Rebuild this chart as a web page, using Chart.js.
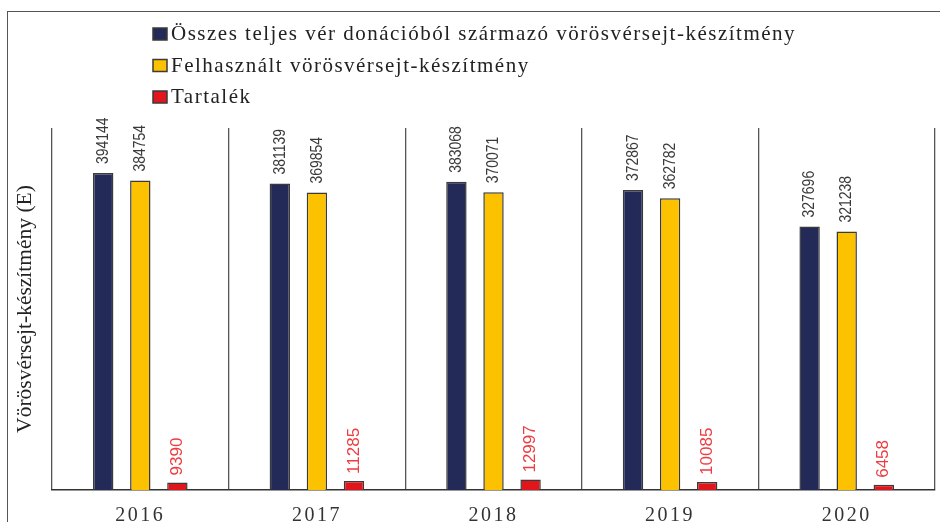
<!DOCTYPE html>
<html>
<head>
<meta charset="utf-8">
<script src="https://cdn.jsdelivr.net/npm/chart.js@4"></script>
<style>
  html, body { margin: 0; padding: 0; background: #fff; }
  #wrap { position: relative; width: 940px; height: 522px; overflow: hidden; }
  #frame { position: absolute; left: 7px; top: 11px; width: 960px; height: 560px;
           border-left: 1.5px solid #555; border-top: 1.5px solid #555; box-sizing: border-box; }
  canvas { position: absolute; left: 0; top: 0; }
</style>
</head>
<body>
<div id="wrap">
  <div id="frame"></div>
  <canvas id="c" width="940" height="522"></canvas>
</div>
<script>
const years = ['2016', '2017', '2018', '2019', '2020'];
const seriesNames = [
  'Összes teljes vér donációból származó vörösvérsejt-készítmény',
  'Felhasznált vörösvérsejt-készítmény',
  'Tartalék'
];
const totalUnits = [394144, 381139, 383068, 372867, 327696];
const usedUnits = [384754, 369854, 370071, 362782, 321238];
const reserveUnits = [9390, 11285, 12997, 10085, 6458];
const yAxisTitle = 'Vörösvérsejt-készítmény (E)';
const yMax = 450000;

const colors = ['#242a57', '#fcc200', '#e1161c'];
const labelColors = ['#3a3a3a', '#3a3a3a', '#ee3c40'];

const barLabels = {
  id: 'barLabels',
  afterDatasetsDraw(chart) {
    const ctx = chart.ctx;
    chart.data.datasets.forEach((ds, di) => {
      const meta = chart.getDatasetMeta(di);
      meta.data.forEach((el, i) => {
        ctx.save();
        const red = di === 2;
        ctx.letterSpacing = '0px';
        ctx.font = '17px "Liberation Sans", sans-serif';
        ctx.fillStyle = labelColors[di];
        ctx.translate(el.x, el.y - (red ? 7 : 9));
        ctx.rotate(-Math.PI / 2);
        if (!red) ctx.scale(0.82, 1);
        ctx.textAlign = 'left';
        ctx.textBaseline = 'middle';
        ctx.fillText(String(ds.data[i]), 0, 0);
        ctx.restore();
      });
    });
  }
};

const customLegend = {
  id: 'customLegend',
  afterDraw(chart) {
    const ctx = chart.ctx;
    const baselines = [40, 71.5, 103];
    chart.data.datasets.forEach((ds, di) => {
      ctx.save();
      const b = baselines[di];
      ctx.fillStyle = ds.backgroundColor;
      ctx.strokeStyle = '#3a3a3a';
      ctx.lineWidth = 1.5;
      ctx.fillRect(153, b - 12, 14, 12);
      ctx.strokeRect(153, b - 12, 14, 12);
      ctx.letterSpacing = '1.5px';
      ctx.font = '21px "Liberation Serif", serif';
      ctx.fillStyle = '#222';
      ctx.textAlign = 'left';
      ctx.textBaseline = 'alphabetic';
      ctx.fillText(ds.label, 171, b);
      ctx.restore();
    });
  }
};

const spacedTicks = {
  id: 'spacedTicks',
  beforeDraw(chart) {
    const sc = chart.scales.x;
    if (sc && !sc._spacedPatched) {
      const orig = sc.drawLabels;
      sc.drawLabels = function (area) {
        const ctx = this.ctx;
        ctx.save();
        ctx.letterSpacing = '2.5px';
        orig.call(this, area);
        ctx.restore();
      };
      sc._spacedPatched = true;
    }
  }
};

new Chart(document.getElementById('c'), {
  type: 'bar',
  data: {
    labels: years,
    datasets: [
      { label: seriesNames[0], data: totalUnits, backgroundColor: colors[0] },
      { label: seriesNames[1], data: usedUnits, backgroundColor: colors[1] },
      { label: seriesNames[2], data: reserveUnits, backgroundColor: colors[2] }
    ]
  },
  options: {
    responsive: false,
    animation: false,
    devicePixelRatio: 1,
    layout: { padding: { top: 128, right: 5, left: 0, bottom: 0 } },
    datasets: {
      bar: {
        categoryPercentage: 0.63,
        barPercentage: 0.55,
        borderColor: '#3a3a3a',
        borderWidth: 1.5
      }
    },
    plugins: {
      legend: { display: false },
      tooltip: { enabled: false }
    },
    scales: {
      x: {
        grid: { display: true, color: '#555', lineWidth: 1.3, drawTicks: false, offset: true },
        border: { display: true, color: '#333', width: 1.5 },
        ticks: {
          color: '#333',
          padding: 14,
          font: { family: '"Liberation Serif", serif', size: 20 }
        },
        afterFit(s) { s.height = 32; }
      },
      y: {
        min: 0,
        max: yMax,
        grid: { display: false },
        border: { display: false },
        ticks: { display: false },
        title: {
          display: true,
          text: yAxisTitle,
          color: '#222',
          font: { family: '"Liberation Serif", serif', size: 21.5 },
          padding: { top: 12, bottom: 0 }
        },
        afterFit(s) { s.width = 52; }
      }
    }
  },
  plugins: [barLabels, customLegend, spacedTicks]
});
</script>
</body>
</html>
